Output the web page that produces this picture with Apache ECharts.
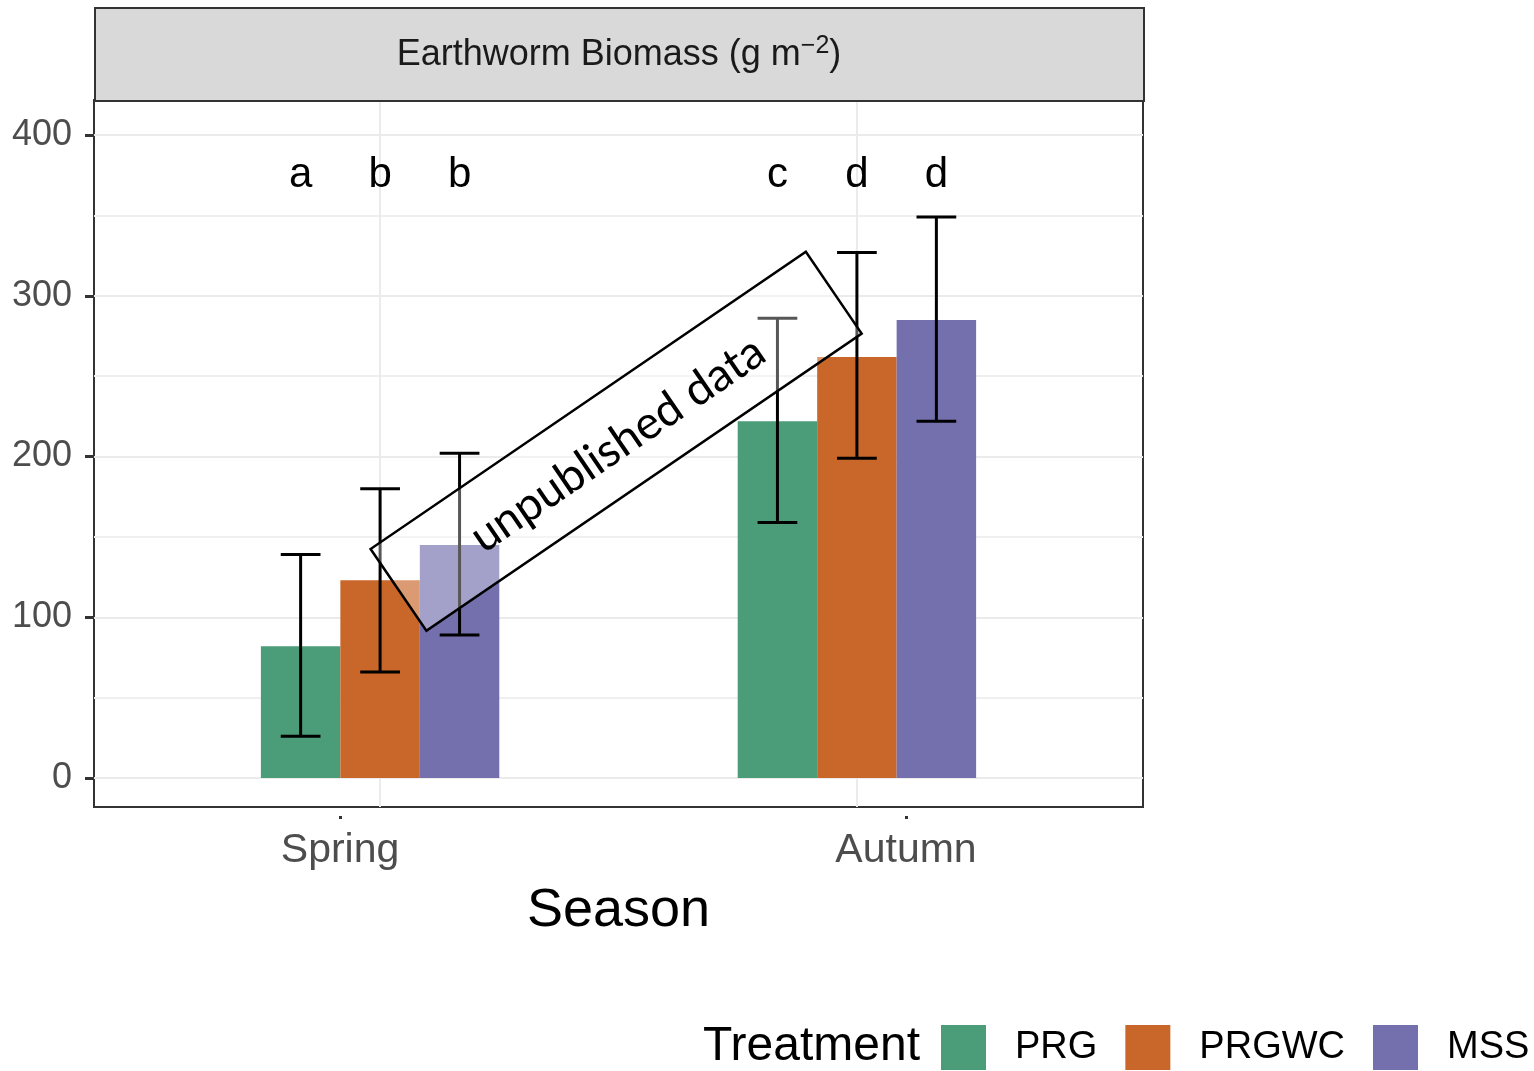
<!DOCTYPE html>
<html>
<head>
<meta charset="utf-8">
<script src="https://cdn.jsdelivr.net/npm/echarts@6/dist/echarts.min.js"></script>
<style>
  html, body { margin: 0; padding: 0; background: #fff; }
  #chart { width: 1534px; height: 1071px; }
</style>
</head>
<body>
<div id="chart"></div>
<script>
// data
var seasons = ["Spring", "Autumn"];
var treatments = ["PRG", "PRGWC", "MSS"];
var colors = ["#4a9d78", "#c96629", "#7470ad"];

var prgMean = [82, 222];
var prgLow = [26, 159];
var prgHigh = [139, 286];

var prgwcMean = [123, 262];
var prgwcLow = [66, 199];
var prgwcHigh = [180, 327];

var mssMean = [145, 285];
var mssLow = [89, 222];
var mssHigh = [202, 349];

var prgLetters = ["a", "c"];
var prgwcLetters = ["b", "d"];
var mssLetters = ["b", "d"];

var yTicks = [0, 100, 200, 300, 400];
var yMinorTicks = [50, 150, 250, 350];
var seasonLabelPos = [0.916, 2.103];

var letterY = 375;
var groupWidth = 0.5;

function makeSeries(idx, mean, low, high, letters) {
  var data = [];
  for (var i = 0; i < seasons.length; i++) {
    data.push([i + 1, mean[i], low[i], high[i], letters[i]]);
  }
  var w = groupWidth / treatments.length;
  var offset = (idx - 1) * w;
  return {
    name: treatments[idx],
    type: "custom",
    xAxisIndex: 0,
    yAxisIndex: 0,
    itemStyle: { color: colors[idx] },
    data: data,
    renderItem: function (params, api) {
      var x = api.value(0) + offset;
      var p0 = api.coord([x - w / 2, 0]);
      var p1 = api.coord([x + w / 2, api.value(1)]);
      var c = api.coord([x, api.value(1)]);
      var lo = api.coord([x, api.value(2)]);
      var hi = api.coord([x, api.value(3)]);
      var capHalf = (p1[0] - p0[0]) / 4;
      var txt = api.coord([x, letterY]);
      var line = { stroke: "#000", lineWidth: 3 };
      return {
        type: "group",
        children: [
          { type: "rect", shape: { x: p0[0], y: p1[1], width: p1[0] - p0[0], height: p0[1] - p1[1] },
            style: { fill: colors[idx] } },
          { type: "line", shape: { x1: c[0], y1: lo[1], x2: c[0], y2: hi[1] }, style: line },
          { type: "line", shape: { x1: c[0] - capHalf, y1: lo[1], x2: c[0] + capHalf, y2: lo[1] }, style: line },
          { type: "line", shape: { x1: c[0] - capHalf, y1: hi[1], x2: c[0] + capHalf, y2: hi[1] }, style: line },
          { type: "text", x: txt[0], y: txt[1],
            style: { text: api.value(4), fill: "#000", fontSize: 42, fontFamily: "Liberation Sans",
                     align: "center", verticalAlign: "middle" } }
        ]
      };
    }
  };
}

var chart = echarts.init(document.getElementById("chart"));

var option = {
  animation: false,
  grid: {
    left: 94, right: 391, top: 100, bottom: 264,
    show: true, borderColor: "#333", borderWidth: 2, backgroundColor: "transparent"
  },
  legend: {
    left: 941, top: 1025, width: 620, padding: 0,
    itemWidth: 45, itemHeight: 45, itemGap: 28,
    icon: "rect",
    data: treatments,
    textStyle: { fontSize: 38, fontFamily: "Liberation Sans", color: "#000", padding: [0, 0, 0, 24] }
  },
  xAxis: [
    {
      type: "value", min: 0.4, max: 2.6,
      axisLine: { show: false, onZero: false },
      axisTick: { show: false, customValues: [1, 2] },
      axisLabel: { show: false },
      splitLine: { show: true, lineStyle: { color: "#ebebeb", width: 2 } }
    },
    {
      type: "value", min: 0.4, max: 2.6, position: "bottom", offset: 9,
      axisLine: { show: false, onZero: false },
      axisTick: { show: true, length: 3, customValues: seasonLabelPos, lineStyle: { color: "#333", width: 3 } },
      axisLabel: {
        customValues: seasonLabelPos, margin: 14,
        fontSize: 41, fontFamily: "Liberation Sans", color: "#4d4d4d",
        formatter: function (v) { return v < 1.5 ? seasons[0] : seasons[1]; }
      },
      splitLine: { show: false },
      name: "Season", nameLocation: "middle", nameGap: 68,
      nameTextStyle: { fontSize: 54, fontFamily: "Liberation Sans", color: "#000" }
    }
  ],
  yAxis: [
    {
      type: "value", min: -18, max: 421.8,
      axisLine: { show: false, onZero: false },
      axisTick: { show: true, length: 9, customValues: yTicks, lineStyle: { color: "#333", width: 3 } },
      axisLabel: { customValues: yTicks, margin: 22, fontSize: 36, fontFamily: "Liberation Sans", color: "#4d4d4d",
                   padding: [5, 0, 0, 0] },
      splitLine: { show: true, lineStyle: { color: "#ebebeb", width: 2 } }
    },
    {
      type: "value", min: -18, max: 421.8, position: "left",
      axisLine: { show: false, onZero: false },
      axisTick: { show: false, customValues: yMinorTicks },
      axisLabel: { show: false },
      splitLine: { show: true, lineStyle: { color: "#efefef", width: 2 } }
    }
  ],
  series: [
    makeSeries(0, prgMean, prgLow, prgHigh, prgLetters),
    makeSeries(1, prgwcMean, prgwcLow, prgwcHigh, prgwcLetters),
    makeSeries(2, mssMean, mssLow, mssHigh, mssLetters)
  ],
  graphic: [
    // facet strip
    {
      type: "rect", left: 94, top: 7, z: 50,
      shape: { width: 1049, height: 93 },
      style: { fill: "#d9d9d9", stroke: "#333", lineWidth: 2 }
    },
    {
      type: "text", x: 619, y: 55, z: 51,
      style: {
        text: "{t|Earthworm Biomass (g m}{s|\u22122}{t|)}",
        align: "center", verticalAlign: "middle",
        rich: {
          t: { fontSize: 36, fontFamily: "Liberation Sans", fill: "#1a1a1a", color: "#1a1a1a" },
          s: { fontSize: 25, fontFamily: "Liberation Sans", fill: "#1a1a1a", color: "#1a1a1a", verticalAlign: "top", padding: [0, 0, 18, 0] }
        }
      }
    },
    // legend title
    {
      type: "text", left: 703, top: 1023, z: 50,
      style: { text: "Treatment", fontSize: 48, fontFamily: "Liberation Sans", fill: "#000" }
    },
    // overlay stamp
    {
      type: "rect", x: 616, y: 442, rotation: 0.599, zlevel: 1, z: 100,
      shape: { x: -263, y: -50, width: 527, height: 99 },
      style: { fill: "rgba(255,255,255,0.34)", stroke: "#000", lineWidth: 2.5 }
    },
    {
      type: "text", x: 616, y: 442, rotation: 0.599, zlevel: 1, z: 101,
      style: { text: "unpublished data", fontSize: 46, fontFamily: "Lato", fill: "#000",
               x: 0, y: 3, align: "center", verticalAlign: "middle" }
    }
  ]
};

chart.setOption(option);
</script>
</body>
</html>
